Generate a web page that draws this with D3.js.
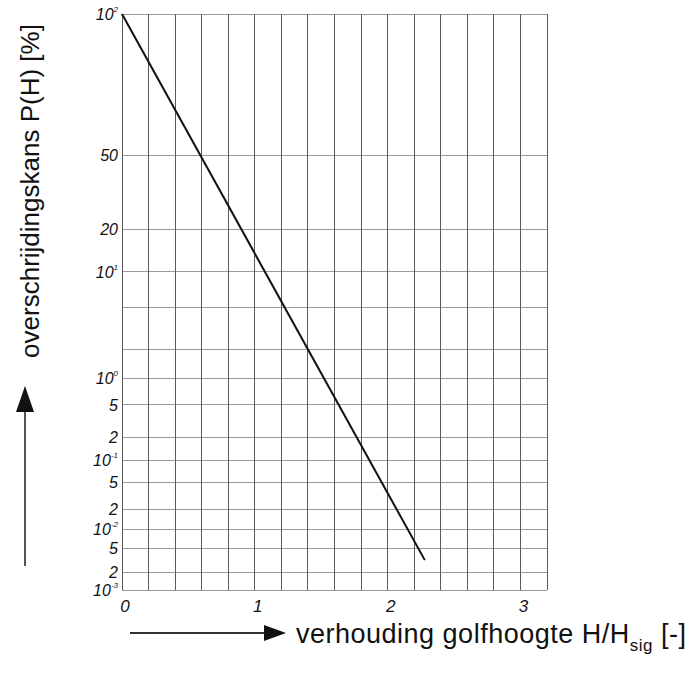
<!DOCTYPE html>
<html>
<head>
<meta charset="utf-8">
<script src="https://cdn.jsdelivr.net/npm/d3@7/dist/d3.min.js"></script>
<style>
  html, body { margin: 0; padding: 0; background: #fff; }
  svg { display: block; }
  text { font-family: "Liberation Sans", Arial, sans-serif; fill: #111; }
</style>
</head>
<body>
<svg id="chart" width="687" height="679"></svg>
<script>
// Rayleigh exceedance paper: wave height ratio vs exceedance probability
const xGridValues = [0, 0.2, 0.4, 0.6, 0.8, 1, 1.2, 1.4, 1.6, 1.8, 2, 2.2, 2.4, 2.6, 2.8, 3, 3.2];
const xTickValues = [0, 1, 2, 3];
const xTickLabels = ["0", "1", "2", "3"];

const pGridValues = [100, 50, 20, 10, 5, 2, 1, 0.5, 0.2, 0.1, 0.05, 0.02, 0.01, 0.005, 0.002, 0.001];
const pTickValues = [100, 50, 20, 10, 1, 0.5, 0.2, 0.1, 0.05, 0.02, 0.01, 0.005, 0.002, 0.001];
const pTickBase = ["10", "50", "20", "10", "10", "5", "2", "10", "5", "2", "10", "5", "2", "10"];
const pTickExp  = ["2", "", "", "1", "0", "", "", "-1", "", "", "-2", "", "", "-3"];

// Exceedance line (H/Hsig, P in %)
const hRatio = [0, 2.28];
const exceedance = [100, 0.0032];

const svg = d3.select("#chart");

const margin = { left: 122, right: 140, top: 14, bottom: 89 };
const W = 687, H = 679;

const x = d3.scaleLinear().domain([0, 3.2]).range([margin.left, W - margin.right]);

// Rayleigh ordinate: sqrt(-ln(P/100)) is linear on the paper
const rayleigh = p => Math.sqrt(-Math.log(p / 100));
const yLin = d3.scaleLinear().domain([0, rayleigh(0.001)]).range([margin.top, H - margin.bottom]);
const y = p => yLin(rayleigh(p));

const g = svg.append("g");

// horizontal grid
g.append("g").selectAll("line")
  .data(pGridValues)
  .join("line")
  .attr("x1", x(0)).attr("x2", x(3.2))
  .attr("y1", d => y(d)).attr("y2", d => y(d))
  .attr("stroke", "#9a9a9a")
  .attr("stroke-width", 1)
  .attr("shape-rendering", "crispEdges");

// vertical grid
g.append("g").selectAll("line")
  .data(xGridValues)
  .join("line")
  .attr("x1", d => x(d)).attr("x2", d => x(d))
  .attr("y1", y(100)).attr("y2", y(0.001))
  .attr("stroke", "#5a5a5a")
  .attr("stroke-width", 1)
  .attr("shape-rendering", "crispEdges");

// y tick labels
const yl = g.append("g").selectAll("text")
  .data(pTickValues.map((v, i) => ({ v, base: pTickBase[i], exp: pTickExp[i] })))
  .join("text")
  .attr("x", x(0) - 4)
  .attr("y", d => y(d.v) + 6)
  .attr("text-anchor", "end")
  .attr("font-size", 16)
  .attr("font-style", "italic");
yl.append("tspan").text(d => d.base);
yl.filter(d => d.exp !== "").append("tspan")
  .attr("font-size", 8)
  .attr("dy", -8)
  .text(d => d.exp);

// x tick labels
g.append("g").selectAll("text")
  .data(xTickValues.map((v, i) => ({ v, t: xTickLabels[i] })))
  .join("text")
  .attr("x", d => x(d.v) + 3)
  .attr("y", y(0.001) + 22)
  .attr("text-anchor", "middle")
  .attr("font-size", 17)
  .attr("font-style", "italic")
  .text(d => d.t);

// exceedance line
const pts = hRatio.map((h, i) => [x(h), y(exceedance[i])]);
g.append("path")
  .attr("d", d3.line()(pts))
  .attr("fill", "none")
  .attr("stroke", "#111")
  .attr("stroke-width", 2);

// axis titles with arrows
svg.append("text")
  .attr("transform", "translate(39,191) rotate(-90)")
  .attr("text-anchor", "middle")
  .attr("font-size", 26)
  .text("overschrijdingskans P(H) [%]");

svg.append("line")
  .attr("x1", 25).attr("x2", 25).attr("y1", 566).attr("y2", 410)
  .attr("stroke", "#555").attr("stroke-width", 2);
svg.append("path")
  .attr("d", d3.line()([[16, 412], [25, 386], [34, 412]]) + "Z")
  .attr("fill", "#111");

svg.append("line")
  .attr("x1", 130).attr("x2", 266).attr("y1", 633).attr("y2", 633)
  .attr("stroke", "#333").attr("stroke-width", 2);
svg.append("path")
  .attr("d", d3.line()([[264, 625], [286, 633], [264, 641]]) + "Z")
  .attr("fill", "#111");

const xt = svg.append("text")
  .attr("x", 296).attr("y", 643)
  .attr("font-size", 27)
  .attr("letter-spacing", 0.5);
xt.append("tspan").text("verhouding golfhoogte H/H");
xt.append("tspan").attr("font-size", 17).attr("dy", 8).text("sig");
xt.append("tspan").attr("dy", -8).text(" [-]");
</script>
</body>
</html>
